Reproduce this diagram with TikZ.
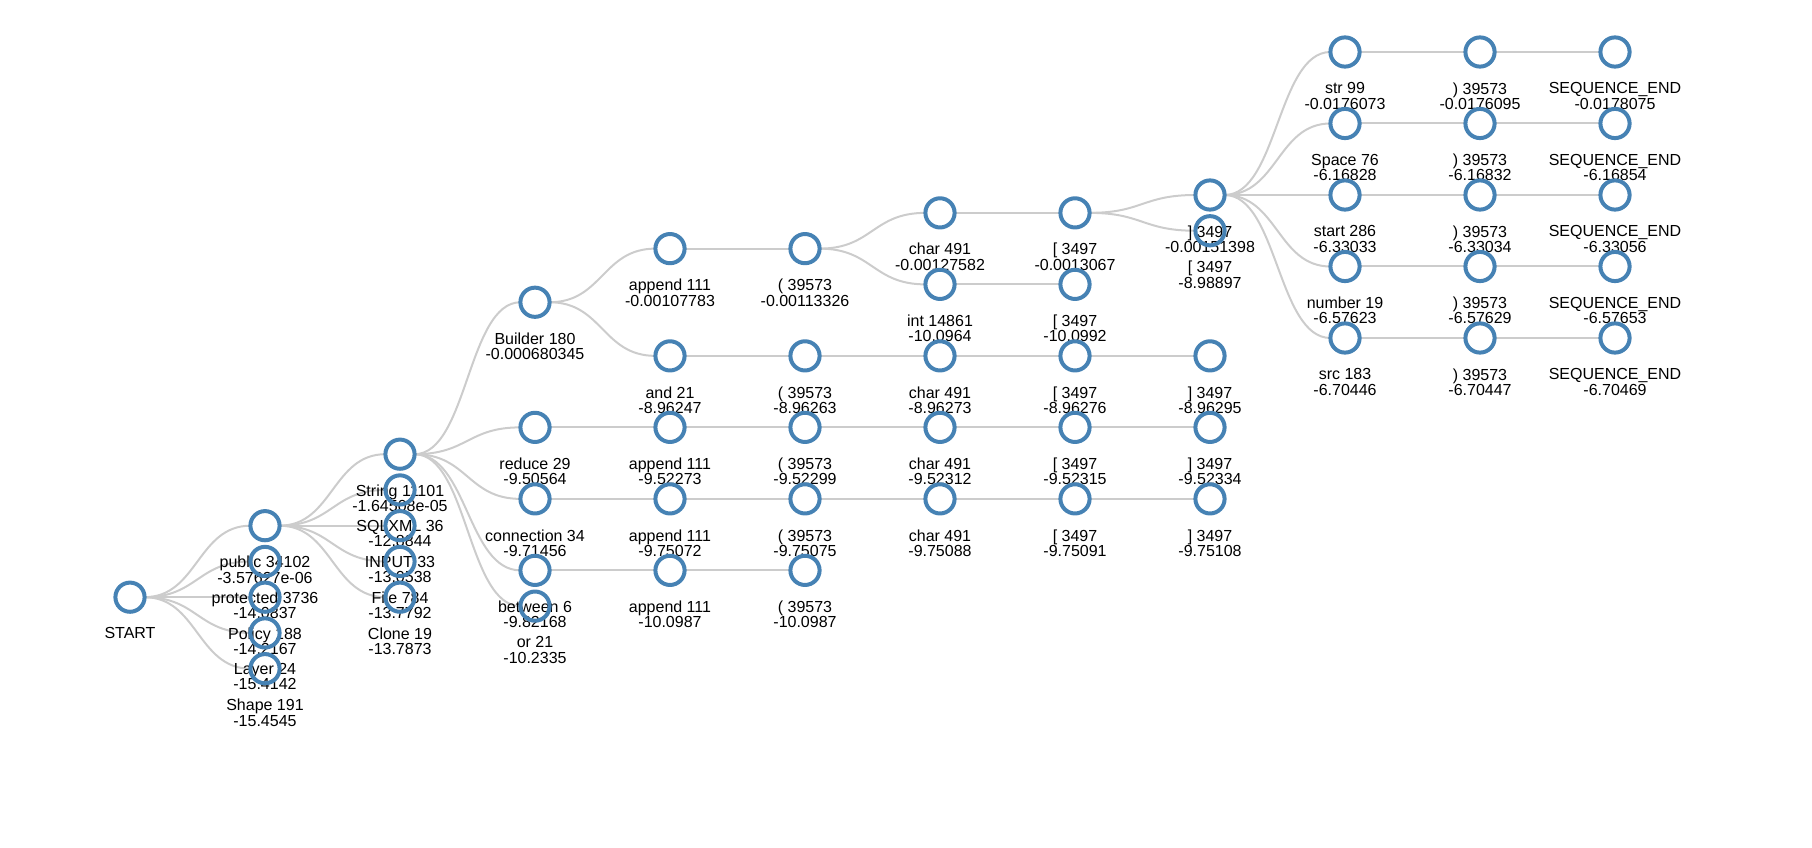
\documentclass[tikz,border=0pt]{standalone}
\usepackage{fontspec}
\setmainfont{Liberation Sans}
\usetikzlibrary{backgrounds}
\definecolor{steel}{HTML}{4682B4}
\definecolor{linkgrey}{HTML}{CCCCCC}

\begin{document}
\begin{tikzpicture}[
    x=101.25pt, y=-26.8125pt,
    dot/.style={circle, draw=steel, line width=3pt, minimum size=21.9pt,
                inner sep=0pt, outer sep=0pt},
    lbl/.style={font=\fontsize{12}{11.5}\selectfont, align=center, inner sep=0pt},
    label distance=11.75pt,
    link/.style={draw=linkgrey, line width=1.5pt, shorten <=10.9pt, shorten >=10.9pt,
                 to path={.. controls +(0.5,0) and +(-0.5,0) .. (\tikztotarget)}},
  ]
    \useasboundingbox (-0.962963,-1.454545) rectangle (12.459259,22.265734);

    % depth 0 - 3
    \node[dot, label={[lbl]below:START}] (start) at (0,15.25) {};
    \node[dot, label={[lbl]below:{public 34102\\-3.57627e-06}}] (pub) at (1,13.25) {};
    \node[dot, label={[lbl]below:{protected 3736\\-14.0837}}] (prot) at (1,14.25) {};
    \node[dot, label={[lbl]below:{Policy 188\\-14.2167}}] (pol) at (1,15.25) {};
    \node[dot, label={[lbl]below:{Layer 24\\-15.4142}}] (lay) at (1,16.25) {};
    \node[dot, label={[lbl]below:{Shape 191\\-15.4545}}] (shp) at (1,17.25) {};
    \node[dot, label={[lbl]below:{String 11101\\-1.64508e-05}}] (str) at (2,11.25) {};
    \node[dot, label={[lbl]below:{SQLXML 36\\-12.8844}}] (sql) at (2,12.25) {};
    \node[dot, label={[lbl]below:{INPUT 33\\-13.0538}}] (inp) at (2,13.25) {};
    \node[dot, label={[lbl]below:{File 784\\-13.7792}}] (fil) at (2,14.25) {};
    \node[dot, label={[lbl]below:{Clone 19\\-13.7873}}] (cln) at (2,15.25) {};
    \node[dot, label={[lbl]below:{Builder 180\\-0.000680345}}] (bld) at (3,7) {};
    \node[dot, label={[lbl]below:{reduce 29\\-9.50564}}] (red) at (3,10.5) {};
    \node[dot, label={[lbl]below:{connection 34\\-9.71456}}] (con) at (3,12.5) {};
    \node[dot, label={[lbl]below:{between 6\\-9.82168}}] (btw) at (3,14.5) {};
    \node[dot, label={[lbl]below:{or 21\\-10.2335}}] (or) at (3,15.5) {};

    % depth 4 - 8
    \node[dot, label={[lbl]below:{append 111\\-0.00107783}}] (a4) at (4,5.5) {};
    \node[dot, label={[lbl]below:{and 21\\-8.96247}}] (b4) at (4,8.5) {};
    \node[dot, label={[lbl]below:{append 111\\-9.52273}}] (c4) at (4,10.5) {};
    \node[dot, label={[lbl]below:{append 111\\-9.75072}}] (d4) at (4,12.5) {};
    \node[dot, label={[lbl]below:{append 111\\-10.0987}}] (e4) at (4,14.5) {};
    \node[dot, label={[lbl]below:{( 39573\\-0.00113326}}] (a5) at (5,5.5) {};
    \node[dot, label={[lbl]below:{( 39573\\-8.96263}}] (b5) at (5,8.5) {};
    \node[dot, label={[lbl]below:{( 39573\\-9.52299}}] (c5) at (5,10.5) {};
    \node[dot, label={[lbl]below:{( 39573\\-9.75075}}] (d5) at (5,12.5) {};
    \node[dot, label={[lbl]below:{( 39573\\-10.0987}}] (e5) at (5,14.5) {};
    \node[dot, label={[lbl]below:{char 491\\-0.00127582}}] (a6) at (6,4.5) {};
    \node[dot, label={[lbl]below:{int 14861\\-10.0964}}] (f6) at (6,6.5) {};
    \node[dot, label={[lbl]below:{char 491\\-8.96273}}] (b6) at (6,8.5) {};
    \node[dot, label={[lbl]below:{char 491\\-9.52312}}] (c6) at (6,10.5) {};
    \node[dot, label={[lbl]below:{char 491\\-9.75088}}] (d6) at (6,12.5) {};
    \node[dot, label={[lbl]below:{[ 3497\\-0.0013067}}] (a7) at (7,4.5) {};
    \node[dot, label={[lbl]below:{[ 3497\\-10.0992}}] (f7) at (7,6.5) {};
    \node[dot, label={[lbl]below:{[ 3497\\-8.96276}}] (b7) at (7,8.5) {};
    \node[dot, label={[lbl]below:{[ 3497\\-9.52315}}] (c7) at (7,10.5) {};
    \node[dot, label={[lbl]below:{[ 3497\\-9.75091}}] (d7) at (7,12.5) {};
    \node[dot, label={[lbl]below:{] 3497\\-0.00151398}}] (a8) at (8,4) {};
    \node[dot, label={[lbl]below:{[ 3497\\-8.98897}}] (g8) at (8,5) {};
    \node[dot, label={[lbl]below:{] 3497\\-8.96295}}] (b8) at (8,8.5) {};
    \node[dot, label={[lbl]below:{] 3497\\-9.52334}}] (c8) at (8,10.5) {};
    \node[dot, label={[lbl]below:{] 3497\\-9.75108}}] (d8) at (8,12.5) {};

    % depth 9 - 11
    \node[dot, label={[lbl]below:{str 99\\-0.0176073}}] (p9) at (9,0) {};
    \node[dot, label={[lbl]below:{Space 76\\-6.16828}}] (q9) at (9,2) {};
    \node[dot, label={[lbl]below:{start 286\\-6.33033}}] (r9) at (9,4) {};
    \node[dot, label={[lbl]below:{number 19\\-6.57623}}] (s9) at (9,6) {};
    \node[dot, label={[lbl]below:{src 183\\-6.70446}}] (t9) at (9,8) {};
    \node[dot, label={[lbl]below:{) 39573\\-0.0176095}}] (p10) at (10,0) {};
    \node[dot, label={[lbl]below:{) 39573\\-6.16832}}] (q10) at (10,2) {};
    \node[dot, label={[lbl]below:{) 39573\\-6.33034}}] (r10) at (10,4) {};
    \node[dot, label={[lbl]below:{) 39573\\-6.57629}}] (s10) at (10,6) {};
    \node[dot, label={[lbl]below:{) 39573\\-6.70447}}] (t10) at (10,8) {};
    \node[dot, label={[lbl]below:{SEQUENCE\_END\\-0.0178075}}] (p11) at (11,0) {};
    \node[dot, label={[lbl]below:{SEQUENCE\_END\\-6.16854}}] (q11) at (11,2) {};
    \node[dot, label={[lbl]below:{SEQUENCE\_END\\-6.33056}}] (r11) at (11,4) {};
    \node[dot, label={[lbl]below:{SEQUENCE\_END\\-6.57653}}] (s11) at (11,6) {};
    \node[dot, label={[lbl]below:{SEQUENCE\_END\\-6.70469}}] (t11) at (11,8) {};

    \begin{pgfonlayer}{background}
      \draw[link] (start.center) edge (pub.center) edge (prot.center) edge (pol.center)
                  edge (lay.center) edge (shp.center);
      \draw[link] (pub.center) edge (str.center) edge (sql.center) edge (inp.center)
                  edge (fil.center) edge (cln.center);
      \draw[link] (str.center) edge (bld.center) edge (red.center) edge (con.center)
                  edge (btw.center) edge (or.center);
      \draw[link] (bld.center) edge (a4.center) edge (b4.center);
      \draw[link] (red.center) edge (c4.center);
      \draw[link] (con.center) edge (d4.center);
      \draw[link] (btw.center) edge (e4.center);
      \draw[link] (a4.center) edge (a5.center);
      \draw[link] (b4.center) edge (b5.center);
      \draw[link] (c4.center) edge (c5.center);
      \draw[link] (d4.center) edge (d5.center);
      \draw[link] (e4.center) edge (e5.center);
      \draw[link] (a5.center) edge (a6.center) edge (f6.center);
      \draw[link] (b5.center) edge (b6.center);
      \draw[link] (c5.center) edge (c6.center);
      \draw[link] (d5.center) edge (d6.center);
      \draw[link] (a6.center) edge (a7.center);
      \draw[link] (f6.center) edge (f7.center);
      \draw[link] (b6.center) edge (b7.center);
      \draw[link] (c6.center) edge (c7.center);
      \draw[link] (d6.center) edge (d7.center);
      \draw[link] (a7.center) edge (a8.center) edge (g8.center);
      \draw[link] (b7.center) edge (b8.center);
      \draw[link] (c7.center) edge (c8.center);
      \draw[link] (d7.center) edge (d8.center);
      \draw[link] (a8.center) edge (p9.center) edge (q9.center) edge (r9.center)
                  edge (s9.center) edge (t9.center);
      \draw[link] (p9.center) edge (p10.center);
      \draw[link] (q9.center) edge (q10.center);
      \draw[link] (r9.center) edge (r10.center);
      \draw[link] (s9.center) edge (s10.center);
      \draw[link] (t9.center) edge (t10.center);
      \draw[link] (p10.center) edge (p11.center);
      \draw[link] (q10.center) edge (q11.center);
      \draw[link] (r10.center) edge (r11.center);
      \draw[link] (s10.center) edge (s11.center);
      \draw[link] (t10.center) edge (t11.center);
    \end{pgfonlayer}
  \end{tikzpicture}
\end{document}
